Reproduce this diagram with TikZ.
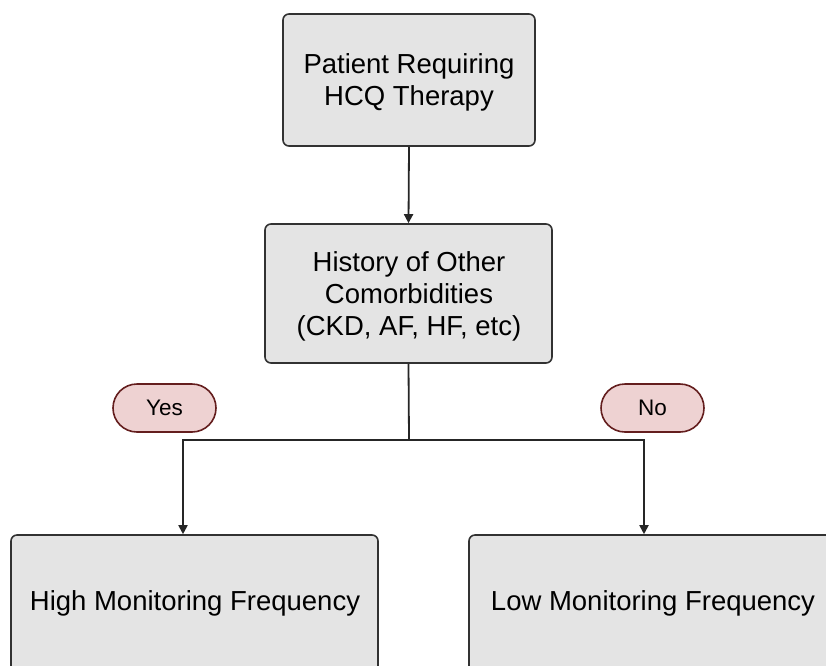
\documentclass[tikz,border=0pt]{standalone}
\usepackage{fontspec}
\setmainfont{Liberation Sans}
\usetikzlibrary{arrows.meta}
\definecolor{boxfill}{RGB}{228,228,228}
\definecolor{boxdraw}{RGB}{50,50,50}
\definecolor{pillfill}{RGB}{238,210,210}
\definecolor{pilldraw}{RGB}{100,30,30}
\begin{document}
\begin{tikzpicture}[x=1pt,y=-1pt,
  box/.style={draw=boxdraw,fill=boxfill,line width=1.6pt,rounded corners=6pt,inner sep=0pt},
  lbl/.style={align=center,inner sep=0pt,font=\fontsize{27.5}{32}\selectfont},
  pill/.style={draw=pilldraw,fill=pillfill,line width=1.6pt,rounded corners=24pt,inner sep=0pt,font=\fontsize{22.5}{26}\selectfont,minimum width=103pt,minimum height=48pt},
  conn/.style={draw=black!85,line width=1.8pt},
  arr/.style={conn,-{Triangle[length=9pt,width=9pt]}}]
\clip (0,0) rectangle (826,665);
\useasboundingbox (0,0) rectangle (826,665);
\node[box,minimum width=252pt,minimum height=132pt] (top) at (409,80) {};
\node[lbl] (topt) at (409,82) {Patient Requiring\\HCQ Therapy};
\node[box,minimum width=287pt,minimum height=139pt] (mid) at (408.5,293.5) {};
\node[lbl] (midt) at (409,296) {History of Other\\Comorbidities\\(CKD, AF, HF, etc)};
\node[box,minimum width=367pt,minimum height=140pt] (hi) at (194.5,605) {};
\node[lbl] (hit) at (195,603) {High Monitoring Frequency};
\node[box,minimum width=368pt,minimum height=140pt] (lo) at (653,605) {};
\node[lbl] (lot) at (653,603) {Low Monitoring Frequency};
\node[pill] (yes) at (164.5,408) {Yes};
\node[pill] (no) at (652.5,408) {No};
\coordinate (split) at (409,440);
\coordinate (l) at (183,440);
\coordinate (r) at (644,440);
\draw[arr] (top.south) -- (mid.north);
\draw[conn] (mid.south) -- (split);
\draw[arr] (split) -- (l) -- (l |- hi.north);
\draw[arr] (split) -- (r) -- (r |- lo.north);
\end{tikzpicture}
\end{document}
